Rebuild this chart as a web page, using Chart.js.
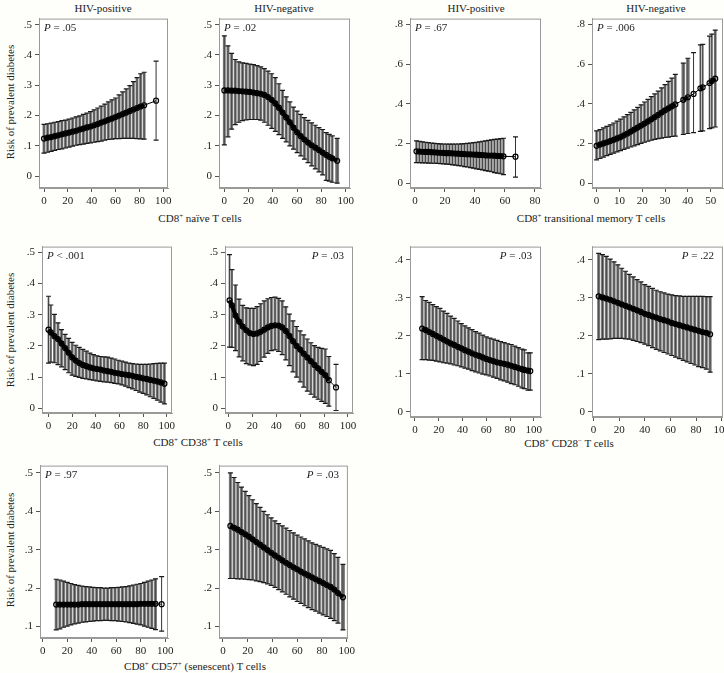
<!DOCTYPE html>
<html lang="en">
<head>
<meta charset="UTF-8">
<title>Risk of prevalent diabetes by CD8+ T-cell subsets</title>
<script src="https://cdn.jsdelivr.net/npm/chart.js"></script>
<style>
    body {
        margin: 0;
        width: 724px;
        height: 673px;
        position: relative;
        overflow: hidden;
        background: #fefefa;
        font-family: "Liberation Serif", "DejaVu Serif", serif;
        color: #222;
    }
    canvas, .lbl {
        position: absolute;
    }
    .lbl {
        font-size: 11px;
        white-space: nowrap;
        transform: translate(-50%, -50%);
    }
    .pval {
        position: absolute;
        font-size: 11px;
        white-space: nowrap;
        transform: translateY(-50%);
    }
    .ytitle {
        transform: translate(-50%, -50%) rotate(-90deg);
    }
    sup {
        font-size: 7px;
        vertical-align: 4px;
        line-height: 0;
    }
</style>
</head>
<body>

<div class="lbl" style="left:103px;top:8px">HIV-positive</div>
<div class="lbl" style="left:284px;top:8px">HIV-negative</div>
<div class="lbl" style="left:476px;top:8px">HIV-positive</div>
<div class="lbl" style="left:656px;top:8px">HIV-negative</div>

<div class="lbl ytitle" style="left:10px;top:102px">Risk of prevalent diabetes</div>
<div class="lbl ytitle" style="left:10px;top:330px">Risk of prevalent diabetes</div>
<div class="lbl ytitle" style="left:10px;top:550px">Risk of prevalent diabetes</div>

<div class="lbl" style="left:200px;top:218px">CD8<sup>+</sup> naïve T cells</div>
<div class="lbl" style="left:591px;top:218px">CD8<sup>+</sup> transitional memory T cells</div>
<div class="lbl" style="left:198px;top:442px">CD8<sup>+</sup> CD38<sup>+</sup> T cells</div>
<div class="lbl" style="left:569px;top:443px">CD8<sup>+</sup> CD28<sup>−</sup> T cells</div>
<div class="lbl" style="left:195px;top:666px">CD8<sup>+</sup> CD57<sup>+</sup> (senescent) T cells</div>

<script>
// ---- data ----
const xTicks100 = [0, 20, 40, 60, 80, 100];
const xTicks80 = [0, 20, 40, 60, 80];
const xTicks50 = [0, 10, 20, 30, 40, 50];
const yTicks05 = [0, .1, .2, .3, .4, .5];
const yTicks08 = [0, .2, .4, .6, .8];
const yTicks04 = [0, .1, .2, .3, .4];
const yTicks15 = [.1, .2, .3, .4, .5];

const pLabels = ['= .05', '= .02', '= .67', '= .006', '< .001', '= .03', '= .03', '= .22', '= .97', '= .03'];

// naive, HIV+
const naivePosX = [0, 3, 6, 9, 12, 15, 18, 21, 24, 27, 30, 33, 36, 39, 42, 45, 48, 51, 54, 57, 60, 63, 66, 69, 72, 75, 78, 81, 84, 94];
const naivePosEst = [.124, .127, .129, .132, .135, .138, .141, .144, .147, .150, .154, .157, .161, .164, .168, .172, .177, .181, .186, .190, .195, .200, .205, .210, .215, .220, .225, .230, .234, .249];
const naivePosHi = [.171, .173, .175, .178, .180, .183, .185, .188, .192, .196, .199, .204, .208, .213, .219, .225, .231, .238, .245, .252, .258, .268, .278, .288, .299, .312, .325, .338, .343, .380];
const naivePosLo = [.076, .079, .082, .085, .088, .090, .093, .096, .099, .102, .104, .106, .108, .110, .112, .114, .116, .119, .121, .122, .124, .124, .125, .125, .125, .125, .124, .123, .122, .119];

// naive, HIV-
const naiveNegX = [0, 3, 6, 9, 12, 15, 18, 21, 24, 27, 30, 33, 36, 39, 42, 45, 48, 51, 54, 57, 60, 63, 66, 69, 72, 75, 78, 81, 84, 86.5, 89, 93];
const naiveNegEst = [.283, .283, .282, .282, .281, .280, .279, .278, .276, .274, .272, .268, .261, .252, .240, .226, .210, .194, .178, .160, .145, .132, .121, .111, .102, .094, .086, .078, .070, .064, .059, .051];
const naiveNegHi = [.463, .430, .405, .385, .377, .374, .372, .370, .368, .365, .361, .355, .347, .338, .325, .305, .283, .262, .245, .228, .215, .204, .193, .184, .176, .168, .160, .154, .144, .138, .133, .125];
const naiveNegLo = [.103, .130, .155, .170, .178, .183, .186, .187, .187, .187, .185, .178, .168, .158, .148, .137, .125, .113, .100, .089, .078, .067, .056, .045, .034, .024, .014, .004, -.014, -.016, -.020, -.023];

// transitional memory, HIV+
const tmPosX = [1, 3, 5, 7, 9, 11, 13, 15, 17, 19, 21, 23, 25, 27, 29, 31, 33, 35, 37, 39, 41, 43, 45, 47, 49, 51, 53, 55, 57, 59, 67];
const tmPosEst = [.160, .159, .158, .157, .157, .156, .155, .154, .153, .152, .151, .151, .150, .149, .148, .147, .146, .145, .145, .144, .143, .142, .141, .140, .139, .139, .138, .137, .136, .135, .133];
const tmPosHi = [.213, .211, .208, .206, .204, .202, .200, .199, .198, .197, .197, .196, .196, .197, .197, .198, .199, .200, .202, .204, .206, .208, .211, .213, .215, .218, .220, .222, .224, .226, .233];
const tmPosLo = [.103, .103, .102, .102, .101, .100, .100, .099, .098, .097, .096, .094, .092, .090, .088, .086, .083, .081, .078, .075, .072, .069, .066, .063, .060, .057, .053, .050, .047, .043, .030];

// transitional memory, HIV-
const tmNegX = [0, 1.5, 3, 4.5, 6, 7.5, 9, 10.5, 12, 13.5, 15, 16.5, 18, 19.5, 21, 22.5, 24, 25.5, 27, 28.5, 30, 31.5, 33, 34.5, 38, 40, 42.5, 45.5, 46.5, 49.5, 50.5, 52];
const tmNegEst = [.188, .194, .200, .206, .212, .218, .225, .232, .241, .250, .260, .270, .280, .290, .300, .311, .322, .333, .344, .356, .367, .377, .387, .397, .420, .433, .450, .478, .483, .505, .515, .527];
const tmNegHi = [.263, .270, .278, .286, .294, .303, .313, .323, .334, .345, .357, .369, .382, .395, .409, .422, .436, .450, .464, .480, .497, .513, .530, .548, .605, .630, .658, .697, .700, .742, .752, .772];
const tmNegLo = [.117, .124, .131, .138, .145, .151, .157, .164, .170, .176, .182, .188, .194, .200, .206, .211, .216, .220, .224, .227, .230, .232, .235, .237, .245, .250, .254, .261, .263, .275, .278, .283];

// CD38+, HIV+
const cd38PosX = [0, 2, 5, 8, 11, 14, 17, 20, 23, 26, 29, 32, 35, 38, 41, 44, 47, 50, 53, 56, 59, 62, 65, 68, 71, 74, 77, 80, 83, 86, 89, 92, 95, 98];
const cd38PosEst = [.252, .243, .231, .222, .208, .193, .178, .163, .153, .145, .139, .135, .131, .128, .126, .124, .121, .119, .117, .114, .112, .110, .108, .106, .104, .101, .099, .096, .094, .091, .089, .086, .083, .079];
const cd38PosHi = [.359, .331, .301, .274, .252, .237, .224, .211, .202, .195, .189, .183, .177, .172, .168, .166, .165, .164, .161, .158, .154, .151, .148, .145, .143, .142, .141, .141, .141, .142, .143, .144, .145, .145];
const cd38PosLo = [.145, .148, .146, .140, .133, .124, .114, .106, .102, .099, .096, .094, .092, .090, .088, .086, .085, .084, .082, .080, .078, .075, .071, .066, .062, .057, .052, .048, .043, .037, .032, .026, .020, .014];

// CD38+, HIV-
const cd38NegX = [1, 3, 6, 9, 12, 15, 18, 21, 24, 27, 30, 33, 36, 39, 42, 45, 48, 51, 54, 57, 60, 63, 66, 69, 72, 75, 78, 81, 84, 90];
const cd38NegEst = [.346, .330, .297, .278, .262, .250, .241, .238, .240, .245, .252, .259, .264, .266, .265, .259, .248, .232, .215, .200, .188, .175, .163, .151, .139, .128, .117, .106, .090, .067];
const cd38NegHi = [.492, .444, .395, .350, .330, .322, .320, .320, .326, .335, .344, .351, .355, .356, .352, .344, .325, .302, .280, .262, .248, .235, .222, .210, .201, .195, .192, .190, .166, .141];
const cd38NegLo = [.196, .195, .185, .165, .152, .143, .139, .137, .141, .150, .164, .176, .185, .187, .182, .172, .155, .137, .117, .100, .085, .068, .055, .045, .036, .029, .022, .016, .007, -.007];

// CD28-, HIV+
const cd28PosX = [6, 9, 12, 15, 18, 21, 24, 27, 30, 33, 36, 39, 42, 45, 48, 51, 54, 57, 60, 63, 66, 69, 72, 75, 78, 81, 84, 87, 90, 92, 95, 97];
const cd28PosEst = [.219, .215, .210, .205, .200, .195, .190, .185, .180, .176, .171, .167, .162, .158, .154, .150, .147, .143, .139, .136, .133, .130, .128, .126, .124, .121, .118, .115, .112, .110, .108, .107];
const cd28PosHi = [.303, .293, .288, .282, .277, .272, .265, .259, .252, .246, .239, .232, .226, .221, .216, .211, .207, .202, .197, .194, .191, .188, .185, .182, .179, .177, .173, .169, .165, .163, .155, .155];
const cd28PosLo = [.137, .137, .136, .135, .133, .131, .129, .128, .126, .123, .121, .118, .115, .112, .108, .105, .102, .099, .097, .094, .091, .088, .084, .081, .078, .074, .071, .067, .063, .061, .057, .057];

// CD28-, HIV-
const cd28NegX = [4, 7, 10, 13, 16, 19, 22, 25, 28, 31, 34, 37, 40, 43, 46, 49, 52, 55, 58, 61, 64, 67, 70, 73, 76, 79, 82, 85, 88, 91];
const cd28NegEst = [.304, .301, .298, .295, .291, .287, .283, .279, .275, .271, .267, .263, .258, .255, .251, .248, .244, .241, .238, .234, .231, .228, .225, .222, .219, .216, .213, .210, .208, .204];
const cd28NegHi = [.417, .414, .409, .402, .395, .387, .378, .370, .362, .355, .348, .342, .335, .330, .325, .320, .316, .313, .310, .308, .306, .305, .304, .304, .304, .304, .304, .304, .303, .303];
const cd28NegLo = [.190, .191, .191, .192, .193, .193, .193, .192, .191, .188, .185, .182, .178, .174, .169, .164, .160, .156, .152, .148, .144, .140, .135, .131, .127, .123, .119, .116, .112, .104];

// CD57+, HIV+
const cd57PosX = [11, 14, 17, 20, 23, 26, 29, 32, 35, 38, 41, 44, 47, 50, 53, 56, 59, 62, 65, 68, 71, 74, 77, 80, 83, 86, 89, 92, 97];
const cd57PosEst = [.157, .157, .157, .157, .157, .157, .157, .158, .158, .158, .158, .158, .158, .158, .158, .158, .158, .158, .158, .158, .158, .158, .158, .159, .159, .159, .159, .159, .158];
const cd57PosHi = [.223, .221, .218, .215, .212, .209, .207, .205, .204, .203, .202, .201, .201, .200, .200, .201, .201, .202, .203, .204, .206, .208, .210, .212, .215, .218, .221, .224, .230];
const cd57PosLo = [.091, .094, .098, .101, .104, .107, .109, .111, .112, .113, .114, .115, .115, .116, .116, .115, .115, .114, .113, .112, .110, .108, .106, .104, .101, .098, .095, .092, .088];

// CD57+, HIV-
const cd57NegX = [6, 9, 12, 15, 18, 21, 24, 27, 30, 33, 36, 39, 42, 45, 48, 51, 54, 57, 60, 63, 66, 69, 72, 75, 78, 81, 84, 87, 90, 93, 97];
const cd57NegEst = [.362, .357, .352, .346, .340, .334, .327, .320, .313, .306, .299, .292, .285, .279, .272, .266, .260, .254, .249, .243, .238, .233, .228, .223, .218, .213, .208, .203, .196, .187, .176];
const cd57NegHi = [.500, .488, .475, .463, .452, .441, .430, .420, .410, .400, .391, .383, .375, .368, .362, .356, .350, .344, .338, .333, .328, .323, .318, .314, .310, .306, .302, .298, .290, .280, .262];
const cd57NegLo = [.225, .225, .224, .224, .223, .222, .221, .219, .217, .214, .211, .207, .202, .196, .190, .184, .177, .171, .165, .160, .154, .149, .144, .140, .135, .130, .126, .121, .115, .109, .091];

// ---- panel layout: plot box (left, top, width, height) and axis ranges ----
const panels = [
    { box: [39, 17, 129, 171],  x: naivePosX, est: naivePosEst, lo: naivePosLo, hi: naivePosHi, xr: [-4.2, 104], yr: [-.039, .52], xt: xTicks100, yt: yTicks05, pLeft: true },
    { box: [219, 17, 131, 171], x: naiveNegX, est: naiveNegEst, lo: naiveNegLo, hi: naiveNegHi, xr: [-4.4, 103.6], yr: [-.039, .52], xt: xTicks100, yt: yTicks05, pLeft: true },
    { box: [410, 17, 131, 171], x: tmPosX, est: tmPosEst, lo: tmPosLo, hi: tmPosHi, xr: [-3.3, 84], yr: [-.025, .83], xt: xTicks80, yt: yTicks08, pLeft: true },
    { box: [592, 17, 131, 171], x: tmNegX, est: tmNegEst, lo: tmNegLo, hi: tmNegHi, xr: [-2, 55.4], yr: [-.025, .83], xt: xTicks50, yt: yTicks08, pLeft: true },
    { box: [42, 245, 130, 168], x: cd38PosX, est: cd38PosEst, lo: cd38PosLo, hi: cd38PosHi, xr: [-5.5, 104.4], yr: [-.015, .518], xt: xTicks100, yt: yTicks05, pLeft: true },
    { box: [225, 245, 128, 168], x: cd38NegX, est: cd38NegEst, lo: cd38NegLo, hi: cd38NegHi, xr: [-2.8, 104.2], yr: [-.015, .518], xt: xTicks100, yt: yTicks05, pLeft: false },
    { box: [410, 245, 131, 172], x: cd28PosX, est: cd28PosEst, lo: cd28PosLo, hi: cd28PosHi, xr: [-4.2, 106], yr: [-.014, .435], xt: xTicks100, yt: yTicks04, pLeft: false },
    { box: [592, 245, 131, 172], x: cd28NegX, est: cd28NegEst, lo: cd28NegLo, hi: cd28NegHi, xr: [-1.2, 101], yr: [-.014, .435], xt: xTicks100, yt: yTicks04, pLeft: false },
    { box: [40, 464, 128, 174], x: cd57PosX, est: cd57PosEst, lo: cd57PosLo, hi: cd57PosHi, xr: [-2.2, 102.2], yr: [.07, .519], xt: xTicks100, yt: yTicks15, pLeft: true },
    { box: [219, 464, 129, 174], x: cd57NegX, est: cd57NegEst, lo: cd57NegLo, hi: cd57NegHi, xr: [-3.2, 101], yr: [.07, .519], xt: xTicks100, yt: yTicks15, pLeft: false }
];

const AXIS_W = 34, AXIS_H = 24, PAD_T = 8, PAD_R = 10;
const DENSE = 5; // px spacing under which bars merge into a grey band

// vertical CI bars with caps, drawn behind the estimate line
const errorBars = {
    id: 'errorBars',
    beforeDatasetsDraw(chart) {
        const { ctx, chartArea, scales } = chart;
        chart.data.datasets.forEach(ds => {
            if (!ds.lo) return;
            const xs = ds.data.map(p => scales.x.getPixelForValue(p.x));
            ctx.save();
            ctx.beginPath();
            ctx.rect(chartArea.left, chartArea.top, chartArea.width, chartArea.height);
            ctx.clip();
            // stems
            xs.forEach((px, i) => {
                const gapL = i > 0 ? px - xs[i - 1] : 99;
                const gapR = i < xs.length - 1 ? xs[i + 1] - px : 99;
                const gap = Math.min(gapL, gapR);
                const y1 = scales.y.getPixelForValue(ds.lo[i]);
                const y2 = scales.y.getPixelForValue(ds.hi[i]);
                ctx.beginPath();
                if (gap < DENSE) {
                    ctx.strokeStyle = '#7c7c7c';
                    ctx.lineWidth = gap * 0.8;
                } else {
                    ctx.strokeStyle = '#333';
                    ctx.lineWidth = 1;
                }
                ctx.moveTo(px, y1);
                ctx.lineTo(px, y2);
                ctx.stroke();
                // darker core line
                if (gap < DENSE) {
                    ctx.beginPath();
                    ctx.strokeStyle = '#3a3a3a';
                    ctx.lineWidth = 0.8;
                    ctx.moveTo(px, y1);
                    ctx.lineTo(px, y2);
                    ctx.stroke();
                }
            });
            // caps
            ctx.strokeStyle = '#1a1a1a';
            ctx.lineWidth = 1.2;
            xs.forEach((px, i) => {
                const y1 = scales.y.getPixelForValue(ds.lo[i]);
                const y2 = scales.y.getPixelForValue(ds.hi[i]);
                ctx.beginPath();
                ctx.moveTo(px - 2.5, y1); ctx.lineTo(px + 2.5, y1);
                ctx.moveTo(px - 2.5, y2); ctx.lineTo(px + 2.5, y2);
                ctx.stroke();
            });
            ctx.restore();
        });
    }
};

// grey frame around plot region
const frame = {
    id: 'frame',
    beforeDraw(chart) {
        const { ctx, chartArea: a } = chart;
        ctx.save();
        ctx.fillStyle = '#fff';
        ctx.fillRect(a.left, a.top, a.width, a.height);
        ctx.restore();
    },
    afterDraw(chart) {
        const { ctx, chartArea: a } = chart;
        ctx.save();
        ctx.strokeStyle = '#9a9a9a';
        ctx.lineWidth = 1;
        ctx.strokeRect(a.left + 0.5, a.top + 0.5, a.width - 1, a.height - 1);
        ctx.restore();
    }
};

Chart.defaults.font.family = '"Liberation Serif", "DejaVu Serif", serif';
Chart.defaults.font.size = 11;
Chart.defaults.color = '#222';

function fmtY(v) {
    if (v === 0) return '0';
    return String(Math.round(v * 10) / 10).replace(/^0/, '');
}

panels.forEach((p, k) => {
    const [L, T, W, H] = p.box;
    const cv = document.createElement('canvas');
    cv.width = W + AXIS_W + PAD_R;
    cv.height = H + PAD_T + AXIS_H;
    cv.style.left = (L - AXIS_W) + 'px';
    cv.style.top = (T - PAD_T) + 'px';
    document.body.appendChild(cv);

    new Chart(cv.getContext('2d'), {
        type: 'scatter',
        data: {
            datasets: [{
                data: p.x.map((x, i) => ({ x: x, y: p.est[i] })),
                lo: p.lo,
                hi: p.hi,
                showLine: true,
                borderColor: '#000',
                borderWidth: 1,
                segment: {
                    // the fitted curve looks like a thick band where points crowd together
                    borderWidth: c => (c.p1.x - c.p0.x < DENSE ? 4 : 1)
                },
                pointRadius: 2.5,
                pointBorderWidth: 1.2,
                pointBorderColor: '#000',
                pointBackgroundColor: 'rgba(0,0,0,0)',
                tension: 0
            }]
        },
        options: {
            responsive: false,
            animation: false,
            layout: { padding: { left: 0, top: PAD_T, right: PAD_R, bottom: 0 } },
            plugins: { legend: { display: false }, tooltip: { enabled: false } },
            scales: {
                x: {
                    type: 'linear',
                    min: p.xr[0], max: p.xr[1],
                    afterBuildTicks: s => { s.ticks = p.xt.map(v => ({ value: v })); },
                    afterFit: s => { s.height = AXIS_H; },
                    ticks: { autoSkip: false, maxRotation: 0, padding: 3, color: '#222' },
                    grid: { drawOnChartArea: false, drawTicks: true, tickLength: 4, color: '#555' },
                    border: { color: '#9a9a9a' }
                },
                y: {
                    type: 'linear',
                    min: p.yr[0], max: p.yr[1],
                    afterBuildTicks: s => { s.ticks = p.yt.map(v => ({ value: v })); },
                    afterFit: s => { s.width = AXIS_W; },
                    ticks: { autoSkip: false, padding: 3, color: '#222', callback: v => fmtY(v) },
                    grid: { drawOnChartArea: false, drawTicks: true, tickLength: 4, color: '#555' },
                    border: { color: '#9a9a9a' }
                }
            }
        },
        plugins: [errorBars, frame]
    });

    // P value label inside the plot box
    const lab = document.createElement('div');
    lab.className = 'pval';
    lab.innerHTML = '<i>P</i> ' + pLabels[k];
    lab.style.top = (T + 10) + 'px';
    if (p.pLeft) {
        lab.style.left = (L + 5) + 'px';
    } else {
        lab.style.right = (724 - (L + W) + 9) + 'px';
    }
    document.body.appendChild(lab);
});
</script>
</body>
</html>
